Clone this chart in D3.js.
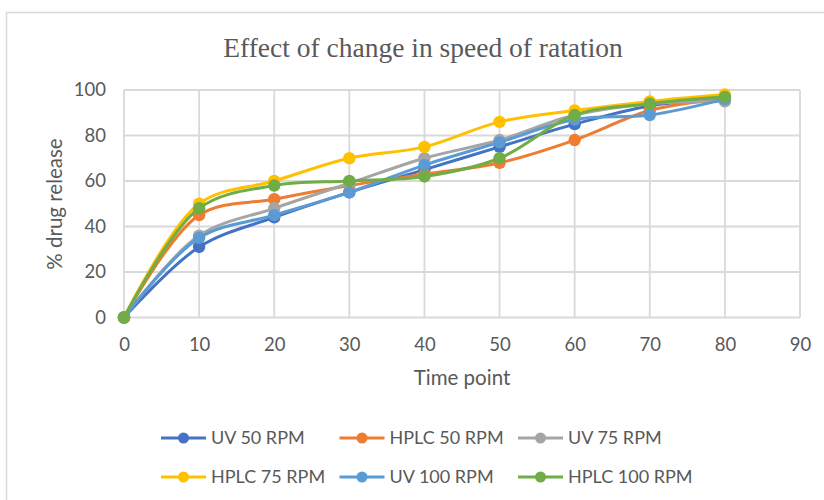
<!DOCTYPE html>
<html>
<head>
<meta charset="utf-8">
<script src="https://cdn.jsdelivr.net/npm/d3@7"></script>
<style>
  html, body { margin: 0; padding: 0; background: #fff; }
  svg { display: block; }
</style>
</head>
<body>
<svg id="chart" width="824" height="500"></svg>
<script>
// Time points (x) and % drug release for each method / speed
const timePoints = [0, 10, 20, 30, 40, 50, 60, 70, 80];
const uv50     = [0, 31, 44, 55, 65, 75, 85, 93, 96];
const hplc50   = [0, 45, 52, 58, 63, 68, 78, 91, 96];
const uv75     = [0, 36, 48, 59, 70, 78, 89, 94, 95];
const hplc75   = [0, 50, 60, 70, 75, 86, 91, 95, 98];
const uv100    = [0, 35, 45, 55, 67, 77, 87, 89, 96];
const hplc100  = [0, 48, 58, 60, 62, 70, 89, 94, 97];

const seriesNames = ["UV 50 RPM", "HPLC 50 RPM", "UV 75 RPM", "HPLC 75 RPM", "UV 100 RPM", "HPLC 100 RPM"];
const seriesValues = [uv50, hplc50, uv75, hplc75, uv100, hplc100];
const seriesColors = ["#4472C4", "#ED7D31", "#A5A5A5", "#FFC000", "#5B9BD5", "#70AD47"];

const xTicks = [0, 10, 20, 30, 40, 50, 60, 70, 80, 90];
const yTicks = [0, 20, 40, 60, 80, 100];

const chartTitle = "Effect of change in speed of ratation";
const xTitle = "Time point";
const yTitle = "% drug release";

const svg = d3.select("#chart");
const labelFont = "Lato, 'Open Sans', sans-serif";
const textColor = "#595959";
const gridColor = "#d9d9d9";

// chart frame
svg.append("rect")
  .attr("x", 6.5).attr("y", 12.5)
  .attr("width", 830).attr("height", 500)
  .attr("fill", "#fff")
  .attr("stroke", gridColor).attr("stroke-width", 1.5);

const plot = { left: 124, right: 800, top: 90, bottom: 317.5 };

const x = d3.scaleLinear().domain([0, 90]).range([plot.left, plot.right]);
const y = d3.scaleLinear().domain([0, 100]).range([plot.bottom, plot.top]);

// gridlines
const grid = svg.append("g");
grid.selectAll("line.h").data(yTicks).join("line")
  .attr("x1", plot.left).attr("x2", plot.right)
  .attr("y1", d => y(d)).attr("y2", d => y(d))
  .attr("stroke", gridColor).attr("stroke-width", 1.8);
grid.selectAll("line.v").data(xTicks).join("line")
  .attr("y1", plot.top).attr("y2", plot.bottom)
  .attr("x1", d => x(d)).attr("x2", d => x(d))
  .attr("stroke", gridColor).attr("stroke-width", 1.8);

// axes (labels only; lines come from the grid)
const xAxis = svg.append("g")
  .attr("transform", `translate(0,${plot.bottom})`)
  .call(d3.axisBottom(x).tickValues(xTicks).tickSize(0).tickPadding(20));
const yAxis = svg.append("g")
  .attr("transform", `translate(${plot.left},0)`)
  .call(d3.axisLeft(y).tickValues(yTicks).tickSize(0).tickPadding(18));
[xAxis, yAxis].forEach(a => {
  a.select(".domain").remove();
  a.selectAll("text")
    .attr("fill", textColor)
    .style("font-family", labelFont)
    .style("font-size", "18.5px");
});

// title
svg.append("text")
  .attr("x", 423).attr("y", 57)
  .attr("text-anchor", "middle")
  .attr("fill", textColor)
  .style("font-family", "'Liberation Serif', 'Times New Roman', serif")
  .style("font-size", "27.5px")
  .text(chartTitle);

// axis titles
svg.append("text")
  .attr("x", 462).attr("y", 385)
  .attr("text-anchor", "middle")
  .attr("fill", textColor)
  .style("font-family", labelFont)
  .style("font-size", "20.5px")
  .text(xTitle);

svg.append("text")
  .attr("transform", "translate(62,204) rotate(-90)")
  .attr("text-anchor", "middle")
  .attr("fill", textColor)
  .style("font-family", labelFont)
  .style("font-size", "20.5px")
  .text(yTitle);

// series lines and markers
const line = d3.line()
  .x((d, i) => x(timePoints[i]))
  .y(d => y(d))
  .curve(d3.curveCatmullRom.alpha(0.5));

const series = svg.append("g").selectAll("g")
  .data(seriesValues)
  .join("g");

series.append("path")
  .attr("d", d => line(d))
  .attr("fill", "none")
  .attr("stroke", (d, i) => seriesColors[i])
  .attr("stroke-width", 3);

series.selectAll("circle")
  .data((d, i) => d.map(v => ({ v, c: seriesColors[i] })))
  .join("circle")
  .attr("cx", (d, j) => x(timePoints[j]))
  .attr("cy", d => y(d.v))
  .attr("r", 6.2)
  .attr("fill", d => d.c);

// legend: two rows of three
const legend = svg.append("g");
const legendItems = legend.selectAll("g")
  .data(seriesNames)
  .join("g")
  .attr("transform", (d, i) => `translate(${161 + (i % 3) * 178.5},${438 + Math.floor(i / 3) * 39})`);

legendItems.append("line")
  .attr("x1", 0).attr("x2", 45)
  .attr("stroke", (d, i) => seriesColors[i])
  .attr("stroke-width", 3);
legendItems.append("circle")
  .attr("cx", 22.5).attr("r", 5.5)
  .attr("fill", (d, i) => seriesColors[i]);
legendItems.append("text")
  .attr("x", 50).attr("dy", "0.35em")
  .attr("fill", textColor)
  .style("font-family", labelFont)
  .style("font-size", "18px")
  .text(d => d);
</script>
</body>
</html>
